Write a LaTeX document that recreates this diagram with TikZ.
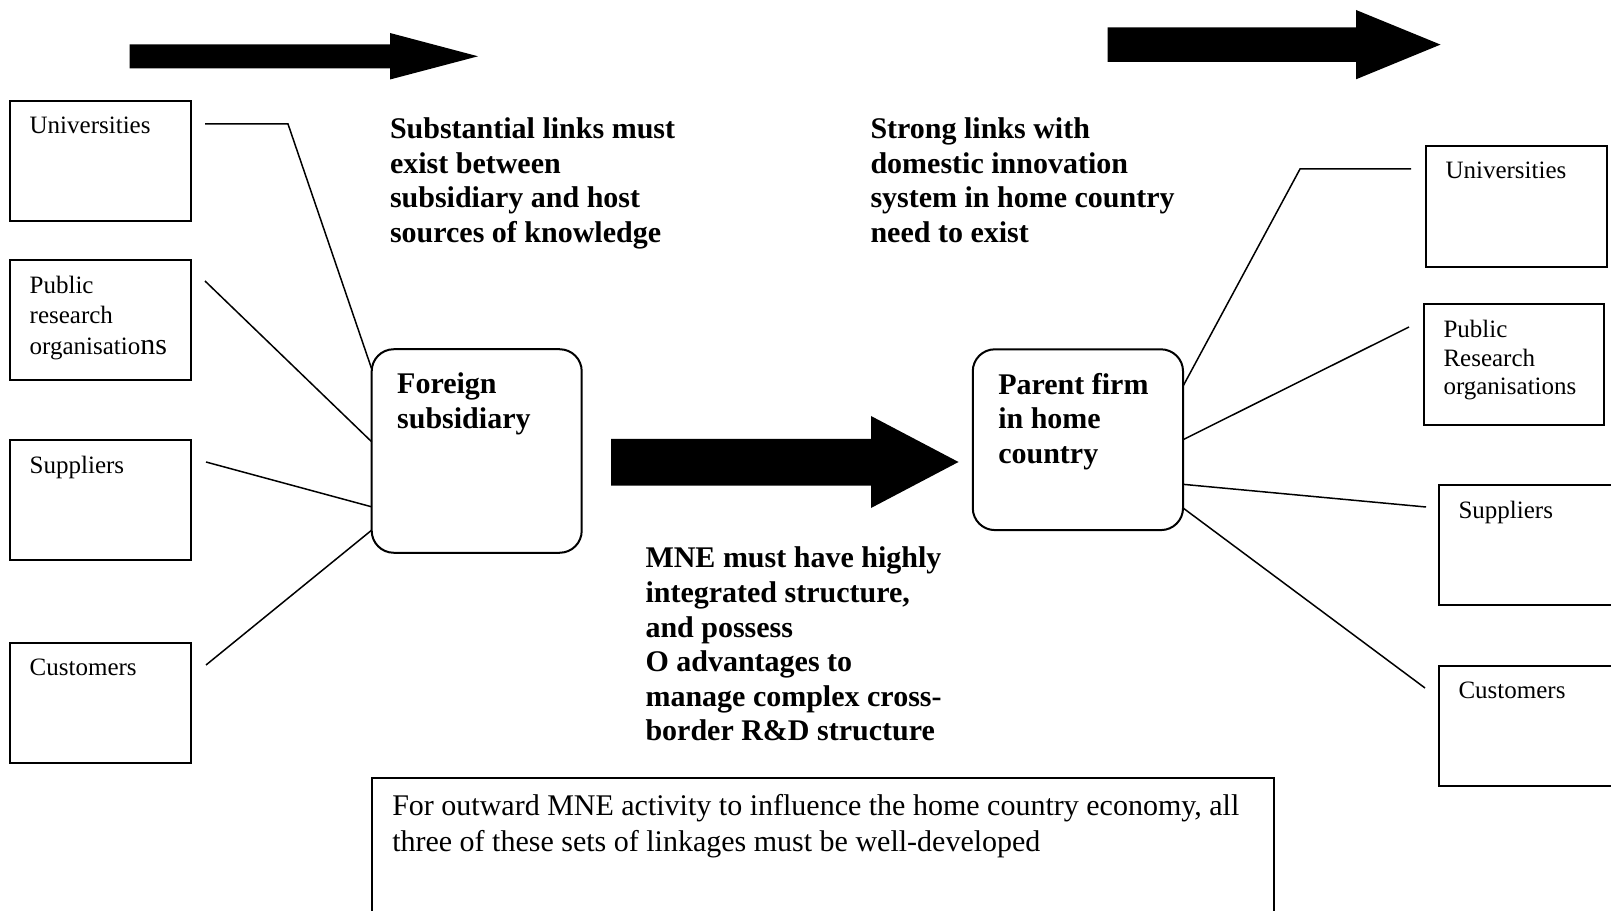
\documentclass[tikz,border=0pt]{standalone}
\usepackage{fontspec}
\setmainfont{Liberation Serif}
\usepackage{tikz}
\usetikzlibrary{positioning}
\tikzset{
    srcbox/.style={
           rectangle,
           draw=black, line width=0.8pt,
           minimum width=72.4pt,
           minimum height=48.2pt,
           inner sep=0pt, outer sep=0pt
           },
    boxtext/.style={
           anchor=north west,
           align=left,
           inner xsep=7.6pt, inner ysep=6.2pt,
           font=\fontsize{10}{11.4}\selectfont
           },
    firm/.style={
           rectangle, rounded corners=8.8pt,
           draw=black, line width=0.8pt,
           inner sep=0pt, outer sep=0pt
           },
    firmtext/.style={
           anchor=north west,
           align=left,
           inner xsep=10pt, inner ysep=9.3pt,
           font=\bfseries\fontsize{12}{13.8}\selectfont
           },
    remark/.style={
           anchor=north west,
           align=left,
           inner sep=0pt,
           font=\bfseries\fontsize{12}{13.85}\selectfont
           },
    fat/.style={
           fill=black
           }
}

\begin{document}
\begin{tikzpicture}[x=0.4pt, y=-0.4pt]
\tikzstyle{link} = [draw=black, line width=0.6pt]
\useasboundingbox (0,0) rectangle (1611,911);
\clip (0,0) rectangle (1611,911);

   % host country side
   \node[srcbox, label={[boxtext]north west:Universities}] (univL) at (100.7,161) {};
   \node[srcbox, label={[boxtext, font=\fontsize{10}{12}\selectfont]north west:Public\\research\\[0.5pt]organisatio{\fontsize{12}{12}\selectfont ns}}] (pubL) at (100.7,320) {};
   \node[srcbox, label={[boxtext]north west:Suppliers}] (supL) at (100.7,500) {};
   \node[srcbox, label={[boxtext]north west:Customers}] (cusL) at (100.7,703) {};

   % the two firms
   \node[firm, minimum width=84pt, minimum height=81.4pt,
         label={[firmtext]north west:Foreign\\subsidiary}] (foreign) at (476.7,451) {};
   \node[firm, minimum width=84.1pt, minimum height=72.3pt,
         label={[firmtext]north west:Parent firm\\in home\\country}] (parent) at (1077.9,439.7) {};

   % home country side
   \node[srcbox, label={[boxtext]north west:Universities}] (univR) at (1516.5,206.5) {};
   \node[srcbox, minimum width=72pt, label={[boxtext]north west:Public\\Research\\organisations}] (pubR) at (1514,364.5) {};
   \node[srcbox, label={[boxtext]north west:Suppliers}] (supR) at (1529.5,545) {};
   \node[srcbox, label={[boxtext]north west:Customers}] (cusR) at (1529.5,726) {};

   % texts
   \node[remark] (subst) at (389.5,117.3) {Substantial links must\\exist between\\subsidiary and host\\sources of knowledge};
   \node[remark] (strong) at (870,117.3) {Strong links with\\domestic innovation\\system in home country\\need to exist};
   \node[remark] (mne) at (645,546.5) {MNE must have highly\\integrated structure,\\and possess\\O advantages to\\manage complex cross-\\border R\&D structure};
   \node[srcbox, minimum width=360.9pt, minimum height=72.7pt,
         label={[boxtext, inner xsep=8pt, inner ysep=6.3pt, font=\fontsize{12}{14.3}\selectfont]north west:For outward MNE activity to influence the home country economy, all\\three of these sets of linkages must be well-developed}] (note) at (822.9,869.2) {};

   % fat arrows
   \fill[fat] (129.5,44.3) -- (390,44.3) -- (390,33) -- (478,56.3) -- (390,79.5) -- (390,68.3) -- (129.5,68.3) -- cycle;
   \fill[fat] (611,439) -- (871,439) -- (871,416) -- (958.5,462) -- (871,508) -- (871,485.5) -- (611,485.5) -- cycle;
   \fill[fat] (1107.5,27.5) -- (1356,27.5) -- (1356,10) -- (1440.5,44.6) -- (1356,79.3) -- (1356,62) -- (1107.5,62) -- cycle;

   % free ends of the links
   \coordinate (lu1) at (205,124);
   \coordinate (lu2) at (288,124);
   \coordinate (lp)  at (205,281);
   \coordinate (ls)  at (206,462);
   \coordinate (lc)  at (206,665);
   \coordinate (ru1) at (1411,169);
   \coordinate (ru2) at (1300,169);
   \coordinate (rp)  at (1409,327);
   \coordinate (rs)  at (1426,507);
   \coordinate (rc)  at (1425,688);

   \draw[link] (lu1) -- (lu2) -- (foreign.142.35);
   \path[link]
    (lp) edge (foreign.175.1)
    (ls) edge (foreign.208.07)
    (lc) edge (foreign.217.3);
   \draw[link] (ru1) -- (ru2) -- (parent.27.5);
   \path[link]
    (rp) edge (parent.east)
    (rs) edge (parent.-23.3)
    (rc) edge (parent.-33)
    ;
\end{tikzpicture}
\end{document}
